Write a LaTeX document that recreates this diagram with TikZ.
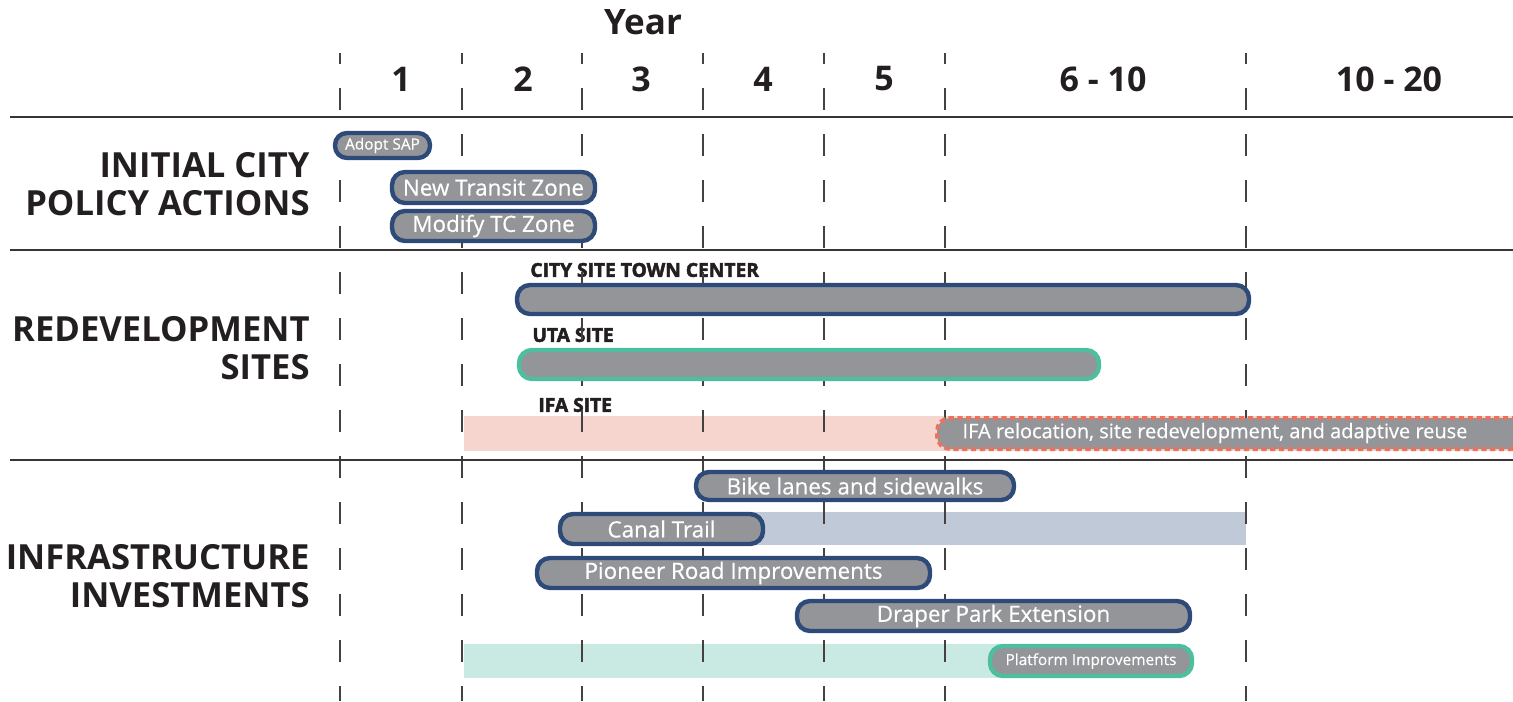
\documentclass[tikz,border=0pt]{standalone}
\usepackage{fontspec}
\setmainfont{Open Sans}
\newfontfamily\barfont[FakeBold=0.5]{Open Sans}
\newfontfamily\heavyfont[FakeBold=2.5]{Open Sans Bold}
\usetikzlibrary{fit}
\definecolor{navy}{HTML}{2D4A78}
\definecolor{barg}{HTML}{939598}
\definecolor{teal}{HTML}{4DBF9E}
\definecolor{redd}{HTML}{E8735F}
\definecolor{pinkb}{HTML}{F7D5CF}
\definecolor{blueb}{HTML}{C0C9D7}
\definecolor{tealb}{HTML}{C9EAE2}
\definecolor{ink}{HTML}{231F20}
\tikzset{
  bar/.style={draw=navy, fill=barg, line width=2.2pt, rounded corners=6.5pt, inner sep=0pt},
  tbar/.style={bar, draw=teal},
  bartext/.style={text=white, inner sep=0pt, font=\barfont\fontsize{11.2}{12}\selectfont},
  smalltext/.style={bartext, font=\barfont\fontsize{7.7}{9}\selectfont},
  band/.style={fill=#1, draw=none, inner sep=0pt},
  grid/.style={draw=ink!85, line width=0.6pt, dash pattern=on 11pt off 12pt, dash phase=5.5pt},
  rule/.style={draw=ink!90, line width=1pt},
  yr/.style={font=\fontsize{17}{19}\selectfont\bfseries, text=ink},
  sect/.style={font=\fontsize{17.3}{19}\selectfont\bfseries, text=ink, align=right, anchor=east, inner sep=0pt},
  site/.style={font=\heavyfont\fontsize{9.6}{10}\selectfont, text=ink, anchor=west, inner sep=0pt}
}
\begin{document}
\begin{tikzpicture}[x=0.5pt,y=-0.5pt]
\useasboundingbox (0,0) rectangle (1513,701);
% site labels (under the grid)
\node[site] (l1) at (530,270) {CITY SITE TOWN CENTER};
\node[site] (l2) at (532,335) {UTA SITE};
\node[site] (l3) at (538,405) {IFA SITE};
% bands
\node[band=pinkb, fit={(464,416) (1513,451)}] (ifaband) {};
\node[band=blueb, fit={(600,512) (1246,545)}] (canalband) {};
\node[band=tealb, fit={(464,644) (1150,678)}] (platband) {};
% vertical grid
\foreach \xx in {340,462,582,703,824,945,1246}{
  \draw[grid] (\xx,53) -- (\xx,701);
}
% horizontal rules
\draw[rule] (10,117) -- (1513,117);
\draw[rule] (10,250) -- (1513,250);
\draw[rule] (10,460) -- (1513,460);
% header
\node[yr, font=\fontsize{17.5}{19}\selectfont\bfseries] (year) at (643,22) {Year};
\node[yr] (y1) at (401,79) {1};
\node[yr] (y2) at (523,79) {2};
\node[yr] (y3) at (641,79) {3};
\node[yr] (y4) at (763,79) {4};
\node[yr] (y5) at (884,79) {5};
\node[yr] (y6) at (1103,79) {6 - 10};
\node[yr] (y10) at (1389,79) {10 - 20};
% section labels
\node[sect] (s1) at (310,184) {INITIAL CITY\\POLICY ACTIONS};
\node[sect] (s2) at (310,348) {REDEVELOPMENT\\SITES};
\node[sect] (s3) at (310,576) {INFRASTRUCTURE\\INVESTMENTS};
% policy bars
\node[bar, rounded corners=6pt, fit={(335,133) (430,158)}] (sap) {};
\node[smalltext] (sapt) at (sap.center) {Adopt SAP};
\node[bar, fit={(392,172) (595,203)}] (ntz) {};
\node[bartext] (ntzt) at (ntz.center) {New Transit Zone};
\node[bar, fit={(392,211) (595,241)}] (tcz) {};
\node[bartext] (tczt) at (tcz.center) {Modify TC Zone};
% redevelopment
\node[bar, fit={(517,285) (1249,314)}] (city) {};
\node[tbar, fit={(519,350) (1099,379)}] (uta) {};
\node[bar, draw=redd, line width=2pt, dash pattern=on 2.6pt off 1.8pt, fit={(937,418) (1530,449)}] (ifa) {};
\node[bartext, font=\barfont\fontsize{10}{11}\selectfont] (ifat) at (1215,433) {IFA relocation, site redevelopment, and adaptive reuse};
% infrastructure
\node[bar, fit={(696,472) (1014,500)}] (bike) {};
\node[bartext] (biket) at (bike.center) {Bike lanes and sidewalks};
\node[bar, fit={(560,514) (763,544)}] (canal) {};
\node[bartext] (canalt) at (canal.center) {Canal Trail};
\node[bar, fit={(537,558) (930,588)}] (pion) {};
\node[bartext] (piont) at (pion.center) {Pioneer Road Improvements};
\node[bar, fit={(797,601) (1190,631)}] (drap) {};
\node[bartext] (drapt) at (drap.center) {Draper Park Extension};
\node[tbar, fit={(990,646) (1192,676)}] (plat) {};
\node[smalltext] (platt) at (plat.center) {Platform Improvements};
\end{tikzpicture}
\end{document}
